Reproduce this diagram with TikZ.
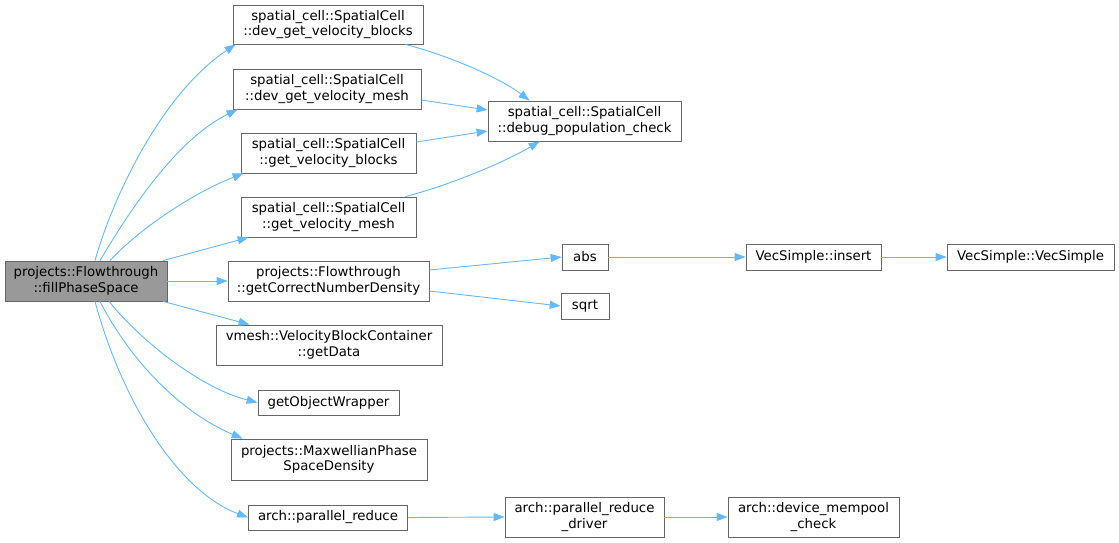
\documentclass[tikz,border=0pt]{standalone}
\usepackage{fontspec}
\setmainfont{DejaVu Sans}
\usetikzlibrary{arrows.meta}
\definecolor{edgeblue}{HTML}{63B8FF}
\definecolor{boxline}{HTML}{666666}
\definecolor{mainfill}{HTML}{999999}
\begin{document}
\begin{tikzpicture}[x=1pt,y=-1pt,
  fbox/.style={draw=boxline, line width=0.8pt, fill=white, inner sep=0pt, align=center,
    font=\fontsize{13.3}{15.5}\selectfont},
  mainbox/.style={fbox, fill=mainfill},
  conn/.style={draw=edgeblue, line width=0.9pt, -{Triangle[length=11pt,width=8pt]}}]
\useasboundingbox (0,0) rectangle (1119,543);
% nodes
\node[mainbox, minimum width=162pt, minimum height=40pt] (main) at (86,281) {projects::Flowthrough\\::fillPhaseSpace};
\node[fbox, minimum width=190pt, minimum height=39pt] (devblocks) at (328,24.5) {spatial\_cell::SpatialCell\\::dev\_get\_velocity\_blocks};
\node[fbox, minimum width=188pt, minimum height=40pt] (devmesh) at (327,89) {spatial\_cell::SpatialCell\\::dev\_get\_velocity\_mesh};
\node[fbox, minimum width=175pt, minimum height=40pt] (getblocks) at (328.5,153) {spatial\_cell::SpatialCell\\::get\_velocity\_blocks};
\node[fbox, minimum width=175pt, minimum height=40pt] (getmesh) at (328.5,217) {spatial\_cell::SpatialCell\\::get\_velocity\_mesh};
\node[fbox, minimum width=193pt, minimum height=40pt] (debug) at (584.5,121) {spatial\_cell::SpatialCell\\::debug\_population\_check};
\node[fbox, minimum width=201pt, minimum height=40pt] (gcnd) at (328.5,281) {projects::Flowthrough\\::getCorrectNumberDensity};
\node[fbox, minimum width=226pt, minimum height=40pt] (vbc) at (329,345) {vmesh::VelocityBlockContainer\\::getData};
\node[fbox, minimum width=141pt, minimum height=25pt] (gow) at (328.5,402.5) {getObjectWrapper};
\node[fbox, minimum width=196pt, minimum height=41pt] (maxw) at (329,459.5) {projects::MaxwellianPhase\\SpaceDensity};
\node[fbox, minimum width=159pt, minimum height=25pt] (pr) at (328,517.5) {arch::parallel\_reduce};
\node[fbox, minimum width=159pt, minimum height=40pt] (prd) at (584.5,517) {arch::parallel\_reduce\\\_driver};
\node[fbox, minimum width=171pt, minimum height=40pt] (mempool) at (813.5,517) {arch::device\_mempool\\\_check};
\node[fbox, minimum width=46pt, minimum height=26pt] (abs) at (585,257) {abs};
\node[fbox, minimum width=48pt, minimum height=26pt] (sqrt) at (585,306) {sqrt};
\node[fbox, minimum width=135pt, minimum height=26pt] (insert) at (813.5,257) {VecSimple::insert};
\node[fbox, minimum width=167pt, minimum height=26pt] (vecsimple) at (1030.5,257) {VecSimple::VecSimple};
% connectors from main
\draw[conn] ([shift={(9,0)}]main.north) .. controls (112,200) and (160,95) .. ([shift={(3,0)}]devblocks.south west);
\draw[conn] ([shift={(14,0)}]main.north) .. controls (127,215) and (175,140) .. ([shift={(5,0)}]devmesh.south west);
\draw[conn] ([shift={(24,0)}]main.north) .. controls (140,228) and (195,192) .. ([shift={(3,0)}]getblocks.south west);
\draw[conn] ([shift={(77,0)}]main.north) -- ([shift={(8,0)}]getmesh.south west);
\draw[conn] (main.east) -- (gcnd.west);
\draw[conn] ([shift={(77,0)}]main.south) -- ([shift={(34,0)}]vbc.north west);
\draw[conn] ([shift={(23,0)}]main.south) .. controls (140,340) and (200,388) .. (gow.west);
\draw[conn] ([shift={(14,0)}]main.south) .. controls (130,360) and (180,412) .. ([shift={(12,0)}]maxw.north west);
\draw[conn] ([shift={(9,0)}]main.south) .. controls (120,395) and (175,490) .. (pr.west);
% connectors to debug
\draw[conn] ([shift={(-18,0)}]devblocks.south east) .. controls (450,56) and (500,78) .. ([shift={(42,0)}]debug.north west);
\draw[conn] ([shift={(0,11)}]devmesh.east) -- ([shift={(0,-11)}]debug.west);
\draw[conn] ([shift={(0,-11)}]getblocks.east) -- ([shift={(0,10)}]debug.west);
\draw[conn] ([shift={(-11,0)}]getmesh.north east) .. controls (450,185) and (505,162) .. ([shift={(52,0)}]debug.south west);
% other connectors
\draw[conn] ([shift={(0,-11)}]gcnd.east) -- (abs.west);
\draw[conn] ([shift={(0,10)}]gcnd.east) -- (sqrt.west);
\draw[conn] (abs.east) -- (insert.west);
\draw[conn] (insert.east) -- (vecsimple.west);
\draw[conn] (pr.east) -- (prd.west);
\draw[conn] (prd.east) -- (mempool.west);
\end{tikzpicture}
\end{document}
